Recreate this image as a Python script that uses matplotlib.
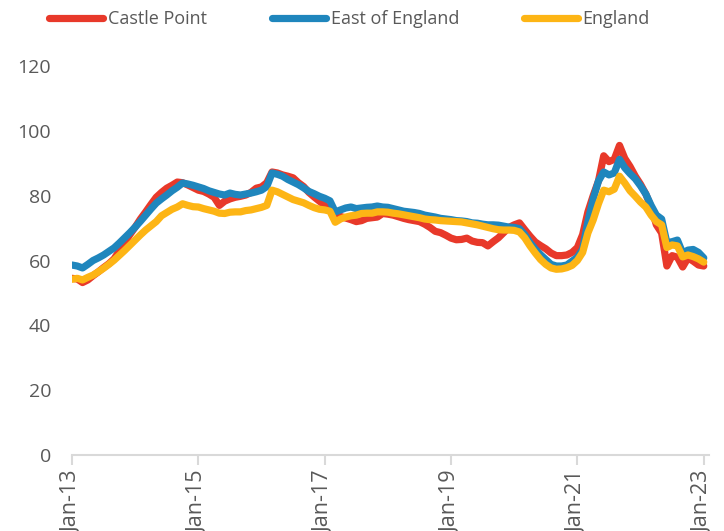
import numpy as np
import matplotlib
matplotlib.use('Agg')
import matplotlib.pyplot as plt

# monthly values, Jan-13 .. Jan-23
castle_point = [
    54.5, 54.3, 53.2, 54.0, 55.3, 56.5, 57.8, 59.0, 60.5, 63.0,
    65.5, 68.0, 70.3, 72.8, 75.0, 77.3, 79.5, 81.0, 82.3, 83.2,
    84.2, 84.0, 83.3, 82.5, 81.7, 81.3, 80.5, 79.5, 77.0, 78.3,
    79.0, 79.5, 79.8, 80.2, 81.0, 82.3, 82.7, 84.0, 87.3, 87.0,
    86.4, 86.0, 85.5, 84.0, 82.8, 81.0, 79.6, 78.3, 77.0, 75.5,
    74.0, 73.6, 73.1, 72.6, 72.0, 72.3, 73.0, 73.2, 73.4, 74.5,
    74.3, 74.0, 73.5, 73.0, 72.6, 72.3, 72.0, 71.2, 70.2, 69.0,
    68.6, 67.8, 66.9, 66.4, 66.5, 66.9, 66.0, 65.6, 65.5, 64.5,
    65.8, 67.0, 68.6, 70.2, 71.0, 71.6, 69.5, 67.5, 65.7, 64.6,
    63.6, 62.3, 61.5, 61.5, 61.7, 62.5, 64.0, 68.0, 75.0, 80.0,
    84.5, 92.3, 90.5, 91.2, 95.5, 91.5, 89.0, 86.0, 83.5, 80.5,
    76.5, 71.0, 68.5, 58.3, 61.5, 61.0, 58.0, 60.8, 59.8, 58.6,
    58.3,
]
east_of_england = [
    58.6, 58.3, 57.7, 58.8, 60.0, 60.8, 61.7, 62.8, 63.9, 65.4,
    67.0, 68.6, 70.3, 72.1, 74.0, 75.9, 77.7, 79.0, 80.2, 81.5,
    82.6, 83.9, 83.6, 83.2, 82.7, 82.2, 81.5, 81.0, 80.5, 80.2,
    80.8, 80.4, 80.2, 80.5, 80.8, 81.2, 81.7, 82.8, 87.0, 86.6,
    86.0, 85.0, 84.2, 83.4, 82.4, 81.3, 80.6, 79.8, 79.2, 78.4,
    75.0, 75.6, 76.2, 76.5, 76.0, 76.2, 76.4, 76.5, 76.8, 76.5,
    76.4, 76.0, 75.6, 75.2, 75.0, 74.8, 74.5, 74.0, 73.7, 73.4,
    73.0, 72.8, 72.6, 72.3, 72.2, 72.0, 71.6, 71.5, 71.2, 71.0,
    71.0, 70.9, 70.6, 70.3, 70.2, 69.8, 68.0, 65.5, 63.5, 61.8,
    60.3, 58.8, 58.3, 58.3, 58.6, 59.8, 61.0, 63.5, 72.0, 79.0,
    84.5, 87.3, 86.4, 87.0, 91.2, 88.6, 86.8, 85.2, 83.0, 80.5,
    77.0, 74.0, 72.8, 65.5, 65.8, 66.3, 62.3, 63.2, 63.4, 62.5,
    60.8,
]
england = [
    54.2, 54.5, 54.0, 54.8, 55.5, 56.5, 57.6, 58.8, 60.1, 61.6,
    63.1, 64.7, 66.3, 67.9, 69.4, 70.7, 72.0, 73.8, 74.8, 75.8,
    76.5, 77.5, 77.0, 76.6, 76.5, 76.0, 75.6, 75.2, 74.6, 74.5,
    74.9, 75.0, 75.0, 75.4, 75.6, 76.0, 76.4, 77.0, 81.7, 81.2,
    80.4, 79.6, 78.8, 78.3, 77.8, 77.0, 76.3, 75.8, 75.6, 75.2,
    71.8, 72.8, 73.4, 73.8, 74.0, 74.5, 74.6, 74.6, 75.0, 75.0,
    74.9, 74.6, 74.4, 74.1, 73.8, 73.5, 73.2, 72.8, 72.6, 72.5,
    72.3, 72.2, 72.1, 72.0, 71.9, 71.6, 71.3, 71.0, 70.6, 70.2,
    69.8, 69.5, 69.4, 69.4, 69.3, 68.8, 67.0, 64.5, 62.3, 60.3,
    58.8, 57.7, 57.3, 57.4, 57.8, 58.5, 60.0, 62.5, 68.5, 72.5,
    77.5, 81.7, 81.2, 82.0, 86.0, 83.9, 81.5, 79.8, 78.0, 76.5,
    74.0, 72.0, 71.0, 64.0, 64.8, 64.5, 61.1, 61.7, 61.2, 60.5,
    59.5,
]
tick_labels = ['Jan-13', 'Jan-15', 'Jan-17', 'Jan-19', 'Jan-21', 'Jan-23']

plt.rcParams['font.family'] = ['Open Sans', 'DejaVu Sans']
grey = '#595959'

fig = plt.figure(figsize=(7.24, 5.31), dpi=100)
ax = fig.add_axes([72 / 724, 76 / 531, 637 / 724, 389 / 531])

months = np.arange(len(castle_point))
ax.plot(months, castle_point, color='#E8392A', lw=5.2, label='Castle Point', solid_capstyle='round')
ax.plot(months, east_of_england, color='#1F86BD', lw=5.2, label='East of England', solid_capstyle='round')
ax.plot(months, england, color='#FDB515', lw=5.2, label='England', solid_capstyle='round')

ax.set_xlim(0, 121)
ax.set_ylim(0, 120)
ax.set_yticks(range(0, 121, 20))
ax.set_xticks(range(0, 121, 24))
ax.set_xticklabels(tick_labels, rotation=90, va='top', ha='center')

for side in ['top', 'right', 'left']:
    ax.spines[side].set_visible(False)
ax.spines['bottom'].set_color('#D9D9D9')
ax.spines['bottom'].set_linewidth(1.5)
ax.tick_params(axis='y', length=0, labelsize=14, labelcolor=grey, pad=15)
ax.tick_params(axis='x', length=7, width=1.5, color='#D9D9D9', labelsize=15.5,
               labelcolor=grey, pad=4)

fig.legend(loc='center left', bbox_to_anchor=(0.058, 0.964), ncol=3, frameon=False,
           fontsize=13, labelcolor=grey, handlelength=3.0, handletextpad=0.25,
           columnspacing=3.6, borderaxespad=0)

fig.savefig('out.png', dpi=100)
